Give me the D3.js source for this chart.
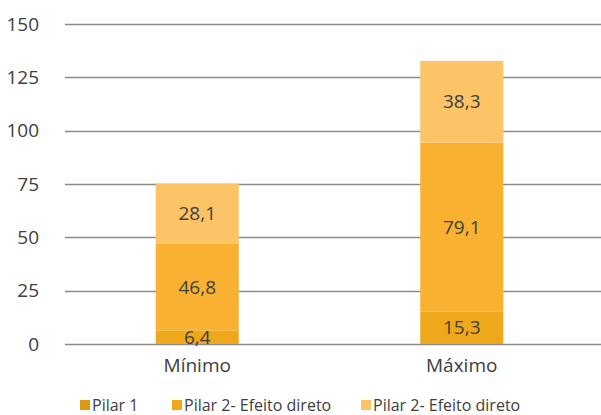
<!DOCTYPE html>
<html>
<head>
<meta charset="utf-8">
<script src="https://cdn.jsdelivr.net/npm/d3@7"></script>
<style>
  body { margin: 0; background: #fff; }
  text { font-family: "Open Sans", sans-serif; fill: #404040; }
</style>
</head>
<body>
<script>
// categories and series (bar heights as drawn)
var categories = ["Mínimo", "Máximo"];
var seriesNames = ["Pilar 1", "Pilar 2- Efeito direto", "Pilar 2- Efeito direto"];
var pilar1 = [6.4, 15.3];
var pilar2 = [40.7, 79.1];
var pilar2b = [28.1, 38.3];

// labels printed on the chart
var pilar1Labels = ["6,4", "15,3"];
var pilar2Labels = ["46,8", "79,1"];
var pilar2bLabels = ["28,1", "38,3"];
var totalLabels = ["75,2", "132,6"];
var yTicks = [0, 25, 50, 75, 100, 125, 150];

var colors = ["#EFA81B", "#F9B132", "#FCC467"];
var legendColors = ["#DA9B10", "#F1A818", "#FDC466"];

var w = 601, h = 415;
var svg = d3.select("body").append("svg").attr("width", w).attr("height", h);

var y = d3.scaleLinear().domain([0, 150]).range([344, 24]);
var x = d3.scaleBand().domain(categories).range([65, 594]).paddingInner(0.686).paddingOuter(0.343);

//gridlines
svg.selectAll("line.grid")
  .data(yTicks)
  .enter()
  .append("line")
  .attr("x1", 65).attr("x2", w)
  .attr("y1", function(d) { return Math.round(y(d)) + 0.5; })
  .attr("y2", function(d) { return Math.round(y(d)) + 0.5; })
  .attr("stroke", "#8c8c8c")
  .attr("stroke-width", 1.3);

//y axis labels
svg.selectAll("text.ytick")
  .data(yTicks)
  .enter()
  .append("text")
  .attr("x", 39)
  .attr("y", function(d) { return y(d); })
  .attr("dy", "0.35em")
  .attr("text-anchor", "end")
  .style("font-size", "19px")
  .text(function(d) { return d; });

//stacked data
var table = categories.map(function(c, i) {
  return { cat: c, s0: pilar1[i], s1: pilar2[i], s2: pilar2b[i] };
});
var stack = d3.stack().keys(["s0", "s1", "s2"])(table);
var segLabels = [pilar1Labels, pilar2Labels, pilar2bLabels];

var layers = svg.selectAll("g.layer")
  .data(stack)
  .enter()
  .append("g")
  .attr("fill", function(d, i) { return colors[i]; });

layers.selectAll("rect")
  .data(function(d) { return d; })
  .enter()
  .append("rect")
  .attr("x", function(d) { return x(d.data.cat); })
  .attr("width", x.bandwidth())
  .attr("y", function(d) { return y(d[1]); })
  .attr("height", function(d) { return y(d[0]) - y(d[1]); });

//segment labels
stack.forEach(function(layer, li) {
  svg.selectAll("text.seg" + li)
    .data(layer)
    .enter()
    .append("text")
    .attr("x", function(d) { return x(d.data.cat) + x.bandwidth() / 2; })
    .attr("y", function(d) { return (y(d[0]) + y(d[1])) / 2; })
    .attr("dy", "0.35em")
    .attr("text-anchor", "middle")
    .style("font-size", "19px")
    .text(function(d, i) { return segLabels[li][i]; });
});

//totals above bars
var top = stack[stack.length - 1];
svg.selectAll("text.total")
  .data(top)
  .enter()
  .append("text")
  .attr("x", function(d) { return x(d.data.cat) + x.bandwidth() / 2; })
  .attr("y", function(d) { return y(d[1]) - 21; })
  .attr("dy", "0.35em")
  .attr("text-anchor", "middle")
  .style("font-size", "19px")
  .text(function(d, i) { return totalLabels[i]; });

//category labels
svg.selectAll("text.cat")
  .data(categories)
  .enter()
  .append("text")
  .attr("x", function(d) { return x(d) + x.bandwidth() / 2; })
  .attr("y", 365)
  .attr("dy", "0.35em")
  .attr("text-anchor", "middle")
  .style("font-size", "19px")
  .text(function(d) { return d; });

//legend
var legendX = [80, 172, 361];
var legend = svg.selectAll("g.legend")
  .data(seriesNames)
  .enter()
  .append("g")
  .attr("transform", function(d, i) { return "translate(" + legendX[i] + ",405)"; });

legend.append("rect")
  .attr("x", 0).attr("y", -5)
  .attr("width", 10).attr("height", 10)
  .attr("fill", function(d, i) { return legendColors[i]; });

legend.append("text")
  .attr("x", 12)
  .attr("y", 0)
  .attr("dy", "0.35em")
  .style("font-size", "16px")
  .text(function(d) { return d; });
</script>
</body>
</html>
